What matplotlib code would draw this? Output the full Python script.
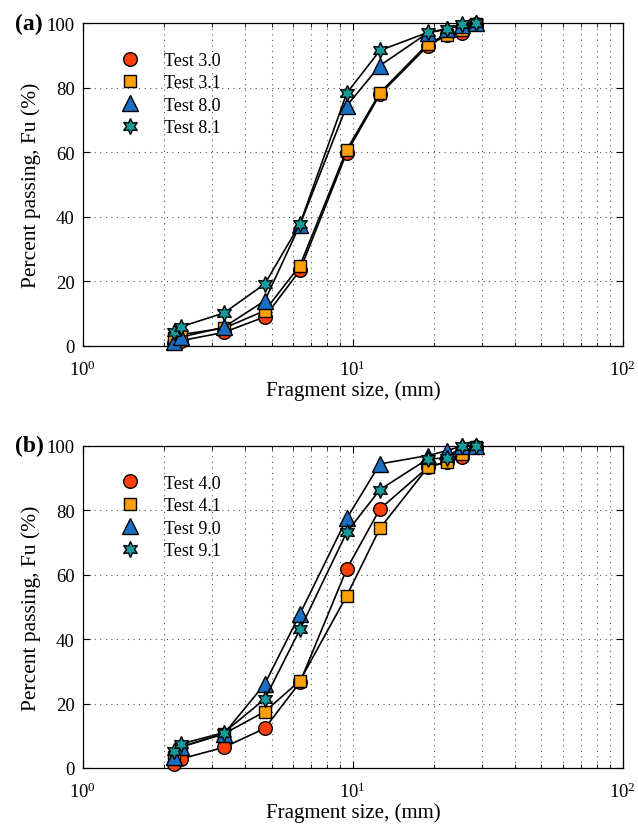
import matplotlib
matplotlib.use('agg')
import matplotlib.pyplot as plt
import numpy as np

plt.rcParams['font.family'] = ['Liberation Serif', 'DejaVu Serif']
plt.rcParams['mathtext.fontset'] = 'stix'

# sieve sizes (mm)
sizes = [2.17, 2.3, 3.33, 4.72, 6.37, 9.5, 12.6, 19.0, 22.3, 25.4, 28.7]

# panel (a)
test_30 = [0.8, 1.6, 4.2, 9.0, 23.4, 59.9, 77.9, 93.0, 96.2, 97.0, 99.8]
test_31 = [2.5, 3.5, 5.5, 10.9, 24.9, 60.8, 78.4, 93.6, 96.4, 97.7, 99.8]
test_80 = [1.2, 2.7, 5.8, 14.0, 37.5, 74.4, 86.8, 97.0, 98.0, 99.5, 100.0]
test_81 = [4.4, 5.9, 10.2, 19.2, 37.8, 78.3, 91.5, 97.1, 98.2, 99.7, 100.0]

# panel (b)
test_40 = [1.2, 2.8, 6.4, 12.3, 26.6, 61.8, 80.4, 93.4, 95.0, 96.5, 99.6]
test_41 = [3.5, 6.5, 10.6, 17.5, 27.1, 53.5, 74.4, 93.4, 95.1, 97.5, 99.7]
test_90 = [3.3, 6.5, 10.6, 26.1, 47.8, 77.5, 94.4, 97.0, 98.5, 100.0, 100.0]
test_91 = [5.4, 7.4, 11.0, 21.4, 43.0, 73.2, 86.4, 96.0, 96.2, 100.0, 100.0]

styles = [
    dict(marker='o', color='#ff400a', ms=9.8),
    dict(marker='s', color='#ffa00a', ms=8),
    dict(marker='^', color='#1a6fc4', ms=11.5),
    dict(marker=(6, 1, 0), color='#169a9a', ms=11.5),
]

fig = plt.figure(figsize=(6.38, 8.28), dpi=100)
ax1 = fig.add_axes([0.130, 0.581, 0.846, 0.390])
ax2 = fig.add_axes([0.130, 0.0713, 0.846, 0.389])


def draw(ax, series, names, tag):
    for ys, name, st in zip(series, names, styles):
        ax.plot(sizes, ys, '-', color='black', lw=1.2, marker=st['marker'],
                markersize=st['ms'], markerfacecolor=st['color'],
                markeredgecolor='black', markeredgewidth=1.0, label=name,
                clip_on=False, zorder=3)
    ax.set_xscale('log')
    ax.set_xlim(1, 100)
    ax.set_ylim(0, 100)
    ax.set_yticks([0, 20, 40, 60, 80, 100])
    ax.grid(True, which='major', linestyle=(0, (1, 4)), color='#555555', lw=0.8)
    ax.grid(True, which='minor', axis='x', linestyle=(0, (1, 4)), color='#555555', lw=0.8)
    ax.tick_params(which='both', direction='in', top=True, right=True, labelsize=13.5)
    ax.tick_params(which='major', length=5)
    ax.tick_params(which='minor', length=3)
    ax.tick_params(axis='x', pad=10)
    ax.tick_params(axis='y', pad=6)
    ax.set_xlabel('Fragment size, (mm)', fontsize=15, labelpad=1)
    ax.set_ylabel('Percent passing, Fu (%)', fontsize=15.5, labelpad=4)
    for sp in ax.spines.values():
        sp.set_linewidth(0.9)
    leg = ax.legend(loc='upper left', bbox_to_anchor=(0.074, 0.933), frameon=False,
                    fontsize=13, handlelength=0, handletextpad=1.9,
                    labelspacing=0.3, borderaxespad=0)
    for line in leg.get_lines():
        line.set_linestyle('none')
    ax.text(-0.126, 1.0, tag, transform=ax.transAxes, fontsize=17,
            fontweight='bold', ha='left', va='center')


draw(ax1, [test_30, test_31, test_80, test_81],
     ['Test 3.0', 'Test 3.1', 'Test 8.0', 'Test 8.1'], '(a)')
draw(ax2, [test_40, test_41, test_90, test_91],
     ['Test 4.0', 'Test 4.1', 'Test 9.0', 'Test 9.1'], '(b)')

fig.savefig('out.png', dpi=100)
